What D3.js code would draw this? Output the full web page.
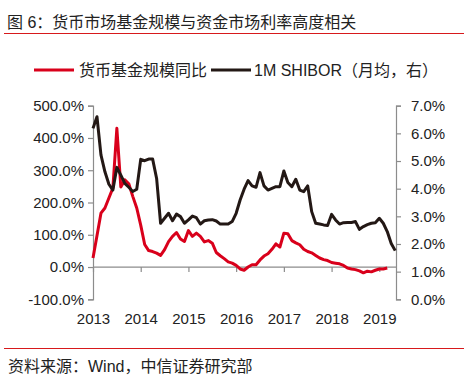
<!DOCTYPE html>
<html><head><meta charset="utf-8">
<script src="https://cdn.jsdelivr.net/npm/d3@7"></script>
<style>body{margin:0;background:#fff;} svg{display:block;} text{font-family:"Liberation Sans","Noto Sans CJK SC",Arial,sans-serif;}</style>
</head><body>
<svg id="c" width="464" height="378"></svg>
<script>
const years = ["2013","2014","2015","2016","2017","2018","2019"];
const leftTicks = [-100,0,100,200,300,400,500];
const rightTicks = [0,1,2,3,4,5,6,7];
// monthly from Jan 2013
const fundYoY = [28,97,167,183,214,245,430,248,270,258,219,183,130,70,51,48,43,36,54,79,95,107,87,79,113,95,105,95,78,82,74,45,35,26,16,12,5,-6,-10,0,7,7,22,34,41,55,72,62,105,103,82,75,69,55,48,44,36,28,23,20,14,12,10,5,-3,-6,-8,-12,-18,-13,-15,-10,-6,-6,-3];
const shibor = [6.18,6.60,5.22,4.61,4.16,3.95,4.77,4.49,4.19,4.05,3.90,3.98,5.06,5.01,5.07,5.07,4.37,2.75,2.93,3.11,2.84,3.08,2.99,2.75,2.87,3.01,2.95,2.72,2.84,2.87,2.88,2.83,2.72,2.72,2.72,2.81,3.11,3.59,3.98,4.29,4.10,4.05,4.58,4.10,3.95,4.01,4.07,4.07,4.64,4.22,4.07,4.34,3.95,3.89,4.10,3.17,2.75,2.72,2.69,2.67,3.07,2.87,2.72,2.77,2.78,2.78,2.81,2.53,2.63,2.70,2.75,2.77,2.93,2.75,2.45,2.02,1.76];
const seriesNames = ["货币基金规模同比","1M SHIBOR（月均，右）"];
const colors = ["#d9001b","#231815"];

const svg = d3.select("#c");
const axisColor = "#8c8c8c";
const x = d3.scaleLinear().domain([0,76.2]).range([93,396]);
const yL = d3.scaleLinear().domain([-100,500]).range([299.3,105.7]);
const yR = d3.scaleLinear().domain([0,7]).range([299.3,105.7]);

// title
svg.append("text").attr("x",7).attr("y",27.5).attr("font-size",16).attr("fill","#222").text("图 6：货币市场基金规模与资金市场利率高度相关");
svg.append("line").attr("x1",4).attr("x2",464).attr("y1",33.5).attr("y2",33.5).attr("stroke","#d7191c").attr("stroke-width",1.2);

// legend
const lg = svg.append("g");
lg.append("line").attr("x1",34).attr("x2",74).attr("y1",70).attr("y2",70).attr("stroke",colors[0]).attr("stroke-width",3);
lg.append("text").attr("x",79).attr("y",75.5).attr("font-size",16).attr("fill","#222").text(seriesNames[0]);
lg.append("line").attr("x1",211).attr("x2",251).attr("y1",70).attr("y2",70).attr("stroke",colors[1]).attr("stroke-width",3);
lg.append("text").attr("x",254).attr("y",75.5).attr("font-size",16).attr("fill","#222").text(seriesNames[1]);

// axes
const gL = svg.append("g").attr("transform","translate(93,0)")
  .call(d3.axisLeft(yL).tickValues(leftTicks).tickFormat(d=>d.toFixed(1)+"%").tickSize(5).tickPadding(4));
const gR = svg.append("g").attr("transform","translate(396,0)")
  .call(d3.axisRight(yR).tickValues(rightTicks).tickFormat(d=>d.toFixed(1)+"%").tickSize(5).tickPadding(10));
const gX = svg.append("g").attr("transform",`translate(0,${yL(0)})`)
  .call(d3.axisBottom(x).tickValues(years.map((d,i)=>i*12)).tickFormat((d,i)=>years[i]).tickSize(5).tickPadding(4));
[gL,gR,gX].forEach(g=>{
  g.select(".domain").attr("stroke",axisColor).attr("stroke-width",1.2);
  g.selectAll(".tick line").attr("stroke",axisColor).attr("stroke-width",1.2);
  g.selectAll("text").attr("font-size",15).attr("fill","#222").attr("font-family",'"Liberation Sans",Arial,sans-serif');
});
gX.select(".domain").attr("d",`M93,0H396`);
gX.selectAll(".tick text").attr("y",null).attr("dy",null).attr("transform",`translate(0,${324-yL(0)})`);

// lines
const lineL = d3.line().x((d,i)=>x(i)).y(d=>yL(d));
const lineR = d3.line().x((d,i)=>x(i)).y(d=>yR(d));
svg.append("path").datum(fundYoY).attr("d",lineL).attr("fill","none").attr("stroke",colors[0]).attr("stroke-width",3).attr("stroke-linejoin","round");
svg.append("path").datum(shibor).attr("d",lineR).attr("fill","none").attr("stroke",colors[1]).attr("stroke-width",3).attr("stroke-linejoin","round");

// footer
svg.append("line").attr("x1",4).attr("x2",464).attr("y1",348.5).attr("y2",348.5).attr("stroke","#d7191c").attr("stroke-width",1.2);
svg.append("text").attr("x",8).attr("y",371.5).attr("font-size",16).attr("fill","#222").text("资料来源：Wind，中信证券研究部");
</script>
</body></html>
